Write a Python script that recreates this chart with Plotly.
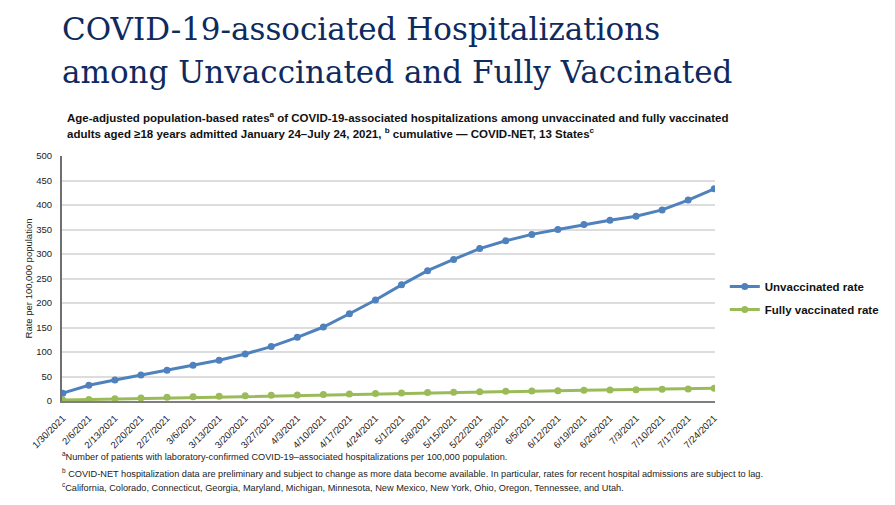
import plotly.graph_objects as go

dates = ["1/30/2021", "2/6/2021", "2/13/2021", "2/20/2021", "2/27/2021", "3/6/2021",
         "3/13/2021", "3/20/2021", "3/27/2021", "4/3/2021", "4/10/2021", "4/17/2021",
         "4/24/2021", "5/1/2021", "5/8/2021", "5/15/2021", "5/22/2021", "5/29/2021",
         "6/5/2021", "6/12/2021", "6/19/2021", "6/26/2021", "7/3/2021", "7/10/2021",
         "7/17/2021", "7/24/2021"]

unvaccinated = [16, 32, 43, 53, 63, 73, 83, 96, 111, 130, 151, 178, 206, 237, 266,
                289, 311, 327, 340, 350, 360, 369, 377, 390, 410, 433]

fully_vaccinated = [2, 3, 4.5, 6, 7.5, 8.5, 9.5, 10.5, 11.5, 12.5, 13.5, 14.5, 15.5,
                    16.5, 17.2, 18, 19, 19.8, 20.4, 21, 21.8, 22.5, 23.2, 23.8, 24.6, 26]

y_ticks = [0, 50, 100, 150, 200, 250, 300, 350, 400, 450, 500]

title_lines = ["COVID-19-associated Hospitalizations",
               "among Unvaccinated and Fully Vaccinated"]
subtitle_lines = ["Age-adjusted population-based rates<sup>a</sup> of COVID-19-associated hospitalizations among unvaccinated and fully vaccinated",
                  "adults aged ≥18 years admitted January 24–July 24, 2021, <sup>b</sup> cumulative — COVID-NET, 13 States<sup>c</sup>"]
footnotes = ["<sup>a</sup>Number of patients with laboratory-confirmed COVID-19–associated hospitalizations per 100,000 population.",
             "<sup>b</sup> COVID-NET hospitalization data are preliminary and subject to change as more data become available. In particular, rates for recent hospital admissions are subject to lag.",
             "<sup>c</sup>California, Colorado, Connecticut, Georgia, Maryland, Michigan, Minnesota, New Mexico, New York, Ohio, Oregon, Tennessee, and Utah."]

BLUE = "#4F81BD"
GREEN = "#9BBB59"
NAVY = "#0E2A5E"
SANS = "Liberation Sans, Arial"
SERIF = "DejaVu Serif, Liberation Serif, serif"

fig = go.Figure()
fig.add_trace(go.Scatter(x=dates, y=unvaccinated, mode="lines+markers",
                         name="<b>Unvaccinated rate</b>", legendgroup="u",
                         line=dict(color=BLUE, width=3),
                         marker=dict(color=BLUE, size=7)))
fig.add_trace(go.Scatter(x=dates, y=fully_vaccinated, mode="lines+markers",
                         name="<b>Fully vaccinated rate</b>", legendgroup="v",
                         line=dict(color=GREEN, width=3),
                         marker=dict(color=GREEN, size=7)))

annotations = []
PLOT_TOP = 148
PLOT_H = 245
def ypx(py):
    # convert figure pixel y to paper y
    return 1 - (py - PLOT_TOP) / PLOT_H

for line, yc in zip(title_lines, [21, 64]):
    annotations.append(dict(text=line, xref="paper", yref="paper", x=-0.003, y=ypx(yc),
                            xanchor="left", yanchor="middle", showarrow=False,
                            font=dict(family=SERIF, size=31, color=NAVY)))
for line, yc in zip(subtitle_lines, [109, 125]):
    annotations.append(dict(text="<b>" + line + "</b>", xref="paper", yref="paper",
                            x=0.005, y=ypx(yc), xanchor="left", yanchor="middle",
                            showarrow=False,
                            font=dict(family=SANS, size=11.5, color="#111111")))
for line, yc in zip(footnotes, [448, 465, 479]):
    annotations.append(dict(text=line, xref="paper", yref="paper",
                            x=-0.003, y=ypx(yc), xanchor="left", yanchor="middle",
                            showarrow=False,
                            font=dict(family=SANS, size=9.2, color="#222222")))

fig.update_layout(
    width=895, height=505,
    margin=dict(l=54, r=188, t=PLOT_TOP, b=505 - PLOT_TOP - PLOT_H),
    paper_bgcolor="white", plot_bgcolor="white",
    showlegend=True,
    legend=dict(x=1.015, y=0.42, xanchor="left", yanchor="middle",
                font=dict(family=SANS, size=11.5, color="#111111"),
                tracegroupgap=4, itemwidth=30),
    xaxis=dict(type="category", tickangle=-45, showgrid=False,
               showline=True, linecolor="#7F7F7F", linewidth=2,
               ticks="", ticklabelstandoff=6,
               tickfont=dict(family=SANS, size=9.5, color="#222222"),
               range=[-0.03, len(dates) - 0.97], automargin=False),
    yaxis=dict(range=[0, 500], tickvals=y_ticks, showgrid=True,
               gridcolor="#DDDDDD", gridwidth=1.5,
               showline=True, linecolor="#6F6F6F", linewidth=2,
               zeroline=False, ticklabelstandoff=6, automargin=False,
               tickfont=dict(family=SANS, size=9.5, color="#222222"),
               title=dict(text="Rate per 100,000 population",
                          font=dict(family=SANS, size=9.5, color="#222222"),
                          standoff=2)),
    annotations=annotations,
)

fig.write_html("out.html")
